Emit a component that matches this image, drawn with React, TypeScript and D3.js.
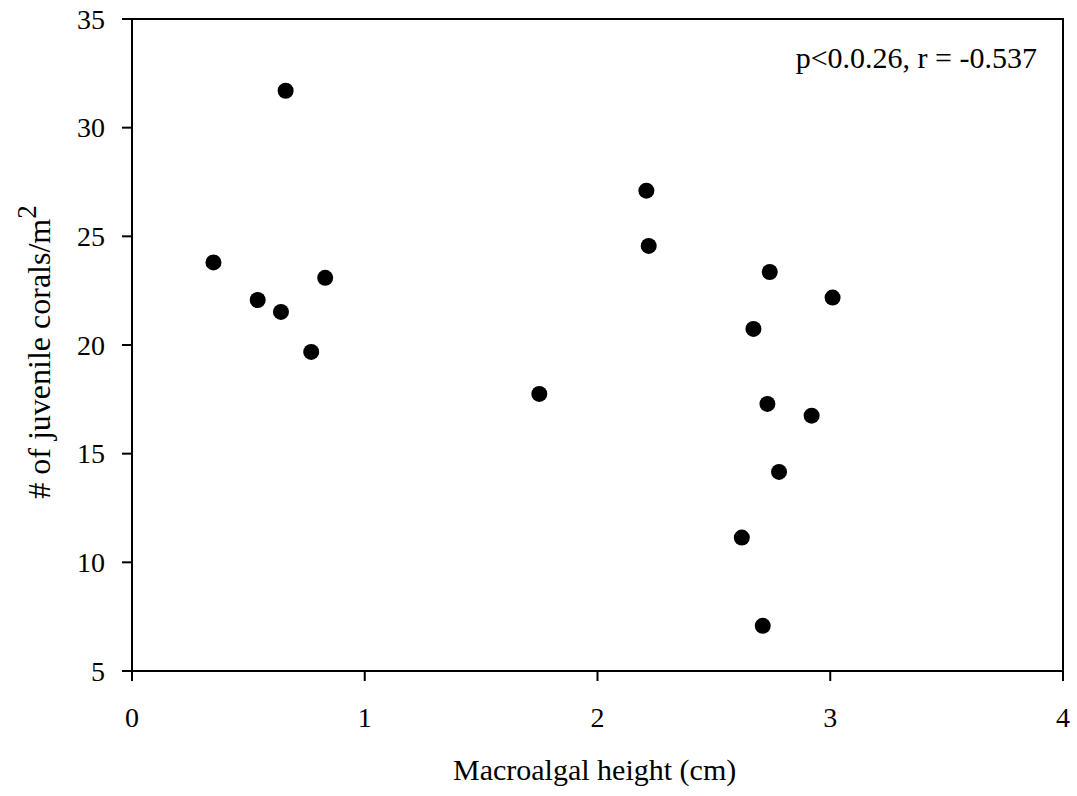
import React from "react";
import * as d3 from "d3";

const xValues = [0.66, 0.35, 0.54, 0.64, 0.83, 0.77, 1.75, 2.21, 2.22, 2.74, 3.01, 2.67, 2.73, 2.92, 2.78, 2.62, 2.71];
const yValues = [31.7, 23.8, 22.07, 21.52, 23.09, 19.68, 17.75, 27.1, 24.56, 23.36, 22.18, 20.74, 17.29, 16.75, 14.16, 11.14, 7.08];
const xTicks = [0, 1, 2, 3, 4];
const yTicks = [5, 10, 15, 20, 25, 30, 35];
const xLabel = "Macroalgal height (cm)";
const yLabel = "# of juvenile corals/m";
const yLabelSup = "2";
const annotation = "p<0.0.26, r = -0.537";

const W = 1077;
const H = 796;
const left = 132;
const right = 1063;
const top = 19;
const bottom = 671;
const FONT = "'Liberation Serif', 'Times New Roman', Times, serif";

export default function App() {
  const x = d3.scaleLinear().domain([0, 4]).range([left, right]);
  const y = d3.scaleLinear().domain([5, 35]).range([bottom, top]);
  const pts = xValues.map((v, i) => ({ x: v, y: yValues[i] }));
  return (
    <svg
      width={W}
      height={H}
      style={{ position: "absolute", left: 0, top: 0, background: "#fff" }}
      fontFamily={FONT}
    >
      <rect x={0} y={0} width={W} height={H} fill="#fff" />
      <rect
        x={left}
        y={top}
        width={right - left}
        height={bottom - top}
        fill="none"
        stroke="#000"
        strokeWidth={2}
      />
      {yTicks.map((t) => (
        <g key={"y" + t}>
          <line x1={left - 10} x2={left} y1={y(t)} y2={y(t)} stroke="#000" strokeWidth={2} />
          <text x={left - 27} y={y(t)} dy="0.35em" textAnchor="end" fontSize={28}>
            {t}
          </text>
        </g>
      ))}
      {xTicks.map((t) => (
        <g key={"x" + t}>
          <line x1={x(t)} x2={x(t)} y1={bottom} y2={bottom + 10} stroke="#000" strokeWidth={2} />
          <text x={x(t)} y={717} dy="0.35em" textAnchor="middle" fontSize={28}>
            {t}
          </text>
        </g>
      ))}
      {pts.map((p, i) => (
        <circle key={i} cx={x(p.x)} cy={y(p.y)} r={8} fill="#000" />
      ))}
      <text x={453} y={780} textAnchor="start" fontSize={30}>
        {xLabel}
      </text>
      <text
        transform={`translate(50, 352) rotate(-90)`}
        textAnchor="middle"
        fontSize={32}
      >
        {yLabel}
        <tspan fontSize={27} dy={-14}>
          {yLabelSup}
        </tspan>
      </text>
      <text x={1037} y={68} textAnchor="end" fontSize={30}>
        {annotation}
      </text>
    </svg>
  );
}
